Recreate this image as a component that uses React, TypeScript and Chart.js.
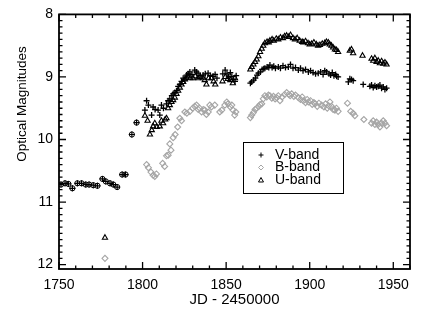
import React, { useEffect, useRef } from "react";
import { Chart, registerables } from "chart.js";

Chart.register(...registerables);

// Early photometry (plotted as V-band)
const earlyJD = [1751.2, 1753.6, 1755.6, 1758.0, 1761.0, 1763.5, 1766.0, 1768.0, 1770.5, 1773.0, 1776.0, 1778.0, 1780.5, 1782.5, 1784.8, 1787.8, 1789.8, 1793.6, 1796.4];
const earlyMag = [10.72, 10.70, 10.71, 10.78, 10.70, 10.70, 10.72, 10.72, 10.73, 10.74, 10.63, 10.67, 10.70, 10.72, 10.76, 10.56, 10.56, 9.92, 9.73];

// V-band
const vJD = [
  1801.4, 1802.4, 1803.5, 1805.4, 1806.3, 1807.5, 1809.3, 1810.3, 1811.3, 1812.5, 1814.3, 1815.3, 1816.3, 1817.5, 1818.3, 1819.3, 1820.3, 1821.3, 1822.3, 1823.3, 1824.3, 1825.3, 1826.3, 1827.3, 1828.3, 1829.5, 1831.2, 1832.2, 1833.2, 1834.5, 1836.2, 1837.5, 1839.2, 1840.5, 1842.2, 1843.4, 1844.5,
  1848.0, 1849.4, 1850.5, 1851.5, 1852.5, 1853.4, 1854.2, 1855.3, 1856.0,
  1864.5, 1865.3, 1866.5, 1867.5, 1868.5, 1869.3, 1870.5, 1871.5, 1872.5, 1873.2, 1874.5, 1875.5, 1876.2, 1877.5, 1878.5, 1879.5, 1881.2, 1882.5, 1884.0, 1885.5, 1887.2, 1888.5, 1890.0, 1891.5, 1893.2, 1894.5, 1896.0, 1897.5, 1899.2, 1900.5, 1902.0, 1903.5, 1905.1, 1906.5, 1908.0, 1909.0, 1910.1, 1911.5, 1912.5, 1913.5, 1914.5, 1915.5, 1916.1, 1917.0,
  1923.1, 1924.0, 1925.0, 1926.0, 1932.0, 1936.0, 1937.0, 1938.0, 1939.0, 1940.0, 1941.0, 1942.0, 1943.0, 1944.0, 1945.0, 1946.0
];
const vMag = [
  9.53, 9.38, 9.45, 9.61, 9.48, 9.52, 9.53, 9.61, 9.45, 9.50, 9.43, 9.38, 9.35, 9.30, 9.27, 9.25, 9.22, 9.15, 9.12, 9.07, 9.02, 9.05, 8.97, 8.95, 8.92, 8.96, 8.89, 8.92, 8.94, 8.98, 8.97, 8.95, 8.94, 8.98, 8.99, 8.96, 9.02,
  8.95, 8.89, 8.95, 9.00, 8.93, 8.99, 9.04, 9.07, 8.98,
  9.10, 9.08, 9.05, 9.02, 8.97, 8.94, 8.92, 8.88, 8.87, 8.86, 8.84, 8.85, 8.81, 8.85, 8.83, 8.86, 8.84, 8.86, 8.82, 8.85, 8.84, 8.80, 8.86, 8.85, 8.89, 8.86, 8.90, 8.88, 8.92, 8.90, 8.93, 8.95, 8.94, 8.92, 8.96, 8.90, 8.92, 8.95, 8.97, 8.93, 8.98, 8.96, 8.99, 9.00,
  9.08, 9.03, 9.04, 9.06, 9.12, 9.15, 9.13, 9.17, 9.14, 9.16, 9.15, 9.13, 9.18, 9.16, 9.20, 9.18
];

// B-band
const bJD = [
  1777.5,
  1802.4, 1803.5, 1805.0, 1806.3, 1807.3, 1808.3, 1812.0, 1813.2, 1814.3, 1815.3, 1816.3, 1817.0, 1818.3, 1819.5, 1821.0, 1822.3, 1823.3, 1825.3, 1826.5, 1828.3, 1830.0, 1831.2, 1832.3, 1833.3, 1834.2, 1835.3, 1836.3, 1837.2, 1838.2, 1839.3, 1840.2, 1841.2, 1843.2, 1846.2, 1847.4, 1849.2, 1850.4, 1851.1, 1852.5, 1853.4, 1854.1, 1855.1, 1855.8,
  1864.5, 1865.3, 1866.3, 1867.3, 1868.3, 1869.5, 1870.3, 1871.3, 1872.2, 1873.2, 1874.3, 1875.3, 1876.2, 1877.3, 1878.3, 1879.3, 1880.2, 1881.2, 1882.2, 1883.5, 1885.0, 1886.2, 1887.5, 1888.3, 1889.2, 1890.5, 1891.5, 1893.2, 1894.5, 1895.5, 1896.2, 1897.5, 1898.5, 1899.2, 1900.5, 1901.5, 1902.5, 1903.2, 1904.5, 1905.5, 1907.1, 1908.5, 1909.5, 1910.5, 1911.3, 1912.1, 1913.0, 1914.0, 1915.1, 1916.0, 1917.0,
  1922.6, 1924.5, 1926.0, 1927.0, 1932.4, 1937.0, 1938.0, 1939.0, 1940.0, 1941.0, 1942.0, 1943.0, 1944.0, 1945.0, 1946.0
];
const bMag = [
  11.90,
  10.40, 10.45, 10.52, 10.57, 10.59, 10.55, 10.38, 10.43, 10.26, 10.25, 10.07, 10.17, 9.97, 9.92, 9.80, 9.66, 9.70, 9.56, 9.58, 9.55, 9.50, 9.47, 9.45, 9.52, 9.50, 9.56, 9.52, 9.53, 9.60, 9.56, 9.45, 9.48, 9.45, 9.56, 9.53, 9.45, 9.40, 9.43, 9.48, 9.45, 9.53, 9.61, 9.56,
  9.65, 9.61, 9.57, 9.52, 9.50, 9.47, 9.44, 9.43, 9.35, 9.30, 9.32, 9.29, 9.30, 9.34, 9.31, 9.35, 9.33, 9.30, 9.38, 9.32, 9.28, 9.25, 9.28, 9.30, 9.27, 9.31, 9.29, 9.33, 9.36, 9.32, 9.38, 9.41, 9.36, 9.40, 9.38, 9.44, 9.41, 9.43, 9.47, 9.42, 9.45, 9.48, 9.43, 9.50, 9.46, 9.40, 9.47, 9.52, 9.53, 9.50, 9.55,
  9.42, 9.55, 9.58, 9.62, 9.68, 9.74, 9.70, 9.76, 9.72, 9.76, 9.80, 9.74, 9.70, 9.74, 9.78
];

// U-band
const uJD = [
  1777.5,
  1801.4, 1803.0, 1804.4, 1805.5, 1806.3, 1807.3, 1808.5, 1810.3, 1811.3, 1812.3, 1813.5, 1814.3, 1815.3, 1816.3, 1817.3, 1818.3, 1819.3, 1820.3, 1821.3, 1822.3, 1823.3, 1824.3, 1825.3, 1826.3, 1827.2, 1828.5, 1830.2, 1831.5, 1833.2, 1834.5, 1836.2, 1837.2, 1838.2, 1839.5, 1841.2, 1842.5, 1843.5,
  1847.8, 1849.5, 1851.0, 1852.5, 1854.0, 1855.3,
  1864.5, 1865.3, 1866.3, 1867.3, 1868.3, 1869.3, 1870.3, 1871.3, 1872.2, 1873.2, 1874.5, 1875.5, 1876.2, 1877.5, 1878.5, 1880.0, 1881.2, 1882.5, 1884.0, 1885.0, 1886.2, 1887.5, 1888.5, 1890.0, 1891.2, 1892.5, 1894.0, 1895.5, 1896.2, 1897.5, 1899.0, 1900.0, 1901.2, 1902.5, 1904.0, 1905.0, 1906.1, 1907.5, 1909.0, 1910.0, 1911.1, 1912.0, 1913.0, 1914.0, 1915.1, 1916.0, 1917.0,
  1924.0, 1925.0, 1926.0, 1931.6, 1937.0, 1938.0, 1939.0, 1940.0, 1941.0, 1942.0, 1943.0, 1944.0, 1945.0, 1946.0
];
const uMag = [
  11.57,
  9.62, 9.70, 9.92, 9.85, 9.79, 9.74, 9.80, 9.79, 9.70, 9.74, 9.68, 9.66, 9.50, 9.45, 9.40, 9.37, 9.33, 9.27, 9.22, 9.17, 9.12, 9.08, 9.04, 9.01, 8.99, 9.02, 9.02, 8.99, 9.02, 9.00, 9.02, 9.05, 9.12, 9.02, 9.02, 9.07, 9.12,
  9.07, 9.00, 9.03, 9.05, 9.10, 9.02,
  8.88, 8.84, 8.80, 8.76, 8.72, 8.67, 8.60, 8.55, 8.50, 8.46, 8.44, 8.45, 8.42, 8.40, 8.42, 8.39, 8.40, 8.37, 8.38, 8.35, 8.34, 8.36, 8.33, 8.38, 8.40, 8.38, 8.42, 8.44, 8.45, 8.43, 8.46, 8.48, 8.47, 8.45, 8.48, 8.50, 8.49, 8.47, 8.46, 8.44, 8.45, 8.48, 8.50, 8.53, 8.56, 8.57, 8.60,
  8.58, 8.56, 8.62, 8.66, 8.71, 8.74, 8.70, 8.76, 8.74, 8.78, 8.75, 8.79, 8.77, 8.80
];

const xMajor = [1750, 1800, 1850, 1900, 1950];
const yMajor = [8, 9, 10, 11, 12];
const legendLabels = ["V-band", "B-band", "U-band"];
const xTitle = "JD - 2450000";
const yTitle = "Optical Magnitudes";

const GRAY = "#a6a6a6";
const FONT = "'Liberation Sans', Arial, sans-serif";

const pts = (xs: number[], ys: number[]) => xs.map((x, i) => ({ x, y: ys[i] }));

const framePlugin = {
  id: "idlFrame",
  afterDraw(chart: any) {
    const { ctx, chartArea: a, scales } = chart;
    const xs = scales.x;
    const ys = scales.y;
    ctx.save();
    ctx.strokeStyle = "#000";
    ctx.lineWidth = 1.8;
    ctx.strokeRect(a.left, a.top, a.right - a.left, a.bottom - a.top);
    ctx.lineWidth = 1.3;
    ctx.beginPath();
    for (let v = 1750; v <= 1960; v += 10) {
      const p = xs.getPixelForValue(v);
      const len = v % 50 === 0 ? 7 : 3.5;
      ctx.moveTo(p, a.bottom);
      ctx.lineTo(p, a.bottom - len);
      ctx.moveTo(p, a.top);
      ctx.lineTo(p, a.top + len);
    }
    for (let i = 0; i <= 40; i++) {
      const v = 8 + i * 0.1;
      const p = ys.getPixelForValue(v);
      const len = i % 10 === 0 ? 7 : 3.5;
      ctx.moveTo(a.left, p);
      ctx.lineTo(a.left + len, p);
      ctx.moveTo(a.right, p);
      ctx.lineTo(a.right - len, p);
    }
    ctx.stroke();

    // y title
    ctx.fillStyle = "#000";
    ctx.font = `13.5px ${FONT}`;
    ctx.textAlign = "center";
    ctx.textBaseline = "middle";
    ctx.translate(22, 104);
    ctx.rotate(-Math.PI / 2);
    ctx.fillText(yTitle, 0, 0);
    ctx.restore();

    // legend
    ctx.save();
    const bx = 243, by = 142, bw = 100, bh = 51;
    ctx.fillStyle = "#fff";
    ctx.fillRect(bx, by, bw, bh);
    ctx.strokeStyle = "#000";
    ctx.lineWidth = 1;
    ctx.strokeRect(bx + 0.5, by + 0.5, bw, bh);
    const rows = [155, 167.5, 180];
    const sx = 261;
    // plus
    ctx.beginPath();
    ctx.moveTo(sx - 2.5, rows[0]);
    ctx.lineTo(sx + 2.5, rows[0]);
    ctx.moveTo(sx, rows[0] - 2.5);
    ctx.lineTo(sx, rows[0] + 2.5);
    ctx.stroke();
    // diamond
    ctx.strokeStyle = GRAY;
    ctx.beginPath();
    ctx.moveTo(sx, rows[1] - 2.5);
    ctx.lineTo(sx + 2.5, rows[1]);
    ctx.lineTo(sx, rows[1] + 2.5);
    ctx.lineTo(sx - 2.5, rows[1]);
    ctx.closePath();
    ctx.stroke();
    // triangle
    ctx.strokeStyle = "#000";
    ctx.beginPath();
    ctx.moveTo(sx, rows[2] - 2.5);
    ctx.lineTo(sx + 2.5, rows[2] + 2);
    ctx.lineTo(sx - 2.5, rows[2] + 2);
    ctx.closePath();
    ctx.stroke();
    ctx.fillStyle = "#000";
    ctx.font = `14px ${FONT}`;
    ctx.textAlign = "left";
    ctx.textBaseline = "middle";
    legendLabels.forEach((t, i) => ctx.fillText(t, 275, rows[i]));
    ctx.restore();
  },
};

export default function App() {
  const ref = useRef<HTMLCanvasElement>(null);
  useEffect(() => {
    if (!ref.current) return;
    const chart = new Chart(ref.current, {
      type: "scatter",
      data: {
        datasets: [
          {
            label: "B-band",
            data: pts(bJD, bMag),
            pointStyle: "rectRot",
            pointRadius: 3,
            borderColor: GRAY,
            backgroundColor: "rgba(0,0,0,0)",
            borderWidth: 1.1,
          },
          {
            label: "U-band",
            data: pts(uJD, uMag),
            pointStyle: "triangle",
            pointRadius: 3,
            borderColor: "#000",
            backgroundColor: "rgba(0,0,0,0)",
            borderWidth: 1.1,
          },
          {
            label: "V-band",
            data: pts(vJD, vMag),
            pointStyle: "cross",
            pointRadius: 3,
            borderColor: "#000",
            backgroundColor: "#000",
            borderWidth: 1.3,
          },
          {
            label: "V-band early",
            data: pts(earlyJD, earlyMag),
            pointStyle: "cross",
            pointRadius: 3,
            borderColor: "#000",
            backgroundColor: "#000",
            borderWidth: 1.2,
          },
          {
            label: "V-band early ring",
            data: pts(earlyJD, earlyMag),
            pointStyle: "circle",
            pointRadius: 2.6,
            borderColor: "#000",
            backgroundColor: "rgba(0,0,0,0)",
            borderWidth: 1,
          },
        ],
      },
      options: {
        responsive: false,
        animation: false,
        events: [],
        layout: { padding: { top: 6, right: 15, left: 0, bottom: 0 } },
        plugins: { legend: { display: false }, tooltip: { enabled: false } },
        scales: {
          x: {
            type: "linear",
            min: 1750,
            max: 1960,
            afterBuildTicks: (s: any) => {
              s.ticks = xMajor.map((v) => ({ value: v }));
            },
            afterFit: (s: any) => {
              s.height = 40;
            },
            grid: { display: false, drawTicks: false },
            border: { display: false },
            ticks: {
              color: "#000",
              font: { family: FONT, size: 14 },
              padding: 8,
              maxRotation: 0,
              autoSkip: false,
              callback: (v: any) => String(v),
            },
            title: {
              display: true,
              text: xTitle,
              color: "#000",
              font: { family: FONT, size: 15 },
              padding: { top: 0, bottom: 0 },
            },
          },
          y: {
            type: "linear",
            reverse: true,
            min: 8,
            max: 12.07,
            afterBuildTicks: (s: any) => {
              s.ticks = yMajor.map((v) => ({ value: v }));
            },
            afterFit: (s: any) => {
              s.width = 59;
            },
            grid: { display: false, drawTicks: false },
            border: { display: false },
            ticks: {
              color: "#000",
              font: { family: FONT, size: 14 },
              padding: 6,
              autoSkip: false,
              callback: (v: any) => String(v),
            },
          },
        },
      },
      plugins: [framePlugin],
    } as any);
    return () => chart.destroy();
  }, []);
  return (
    <div style={{ position: "absolute", left: 0, top: 0, width: 425, height: 309, background: "#fff" }}>
      <canvas ref={ref} width={425} height={309} style={{ display: "block" }} />
    </div>
  );
}
